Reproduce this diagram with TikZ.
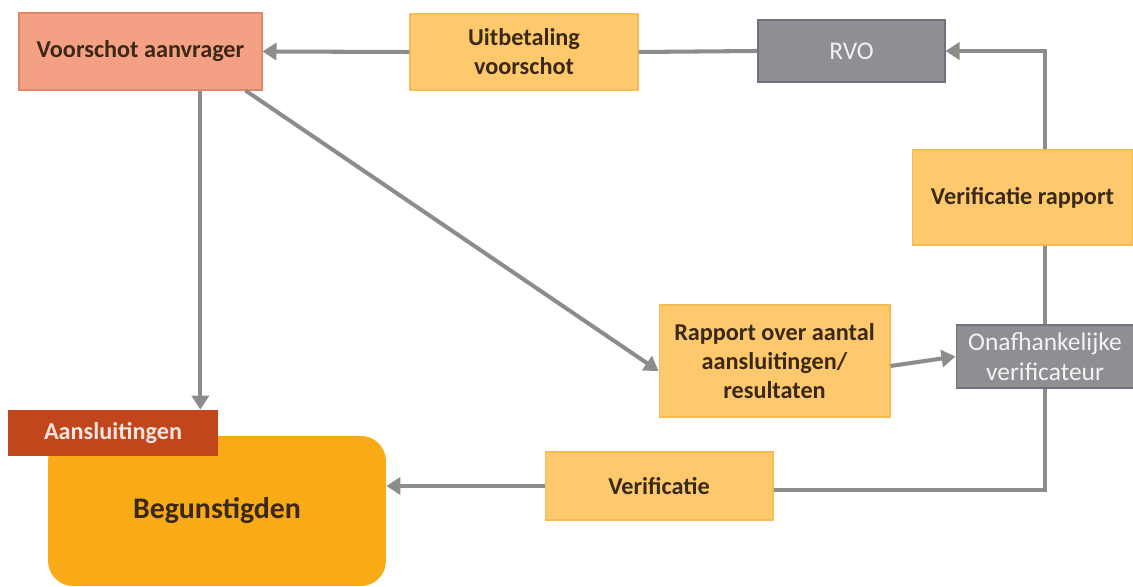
\documentclass[tikz,border=0pt]{standalone}
\usepackage{fontspec}
\setmainfont{Carlito}
\usetikzlibrary{arrows.meta,calc}
\definecolor{salmon}{HTML}{F4A084}
\definecolor{salmonD}{HTML}{E3876A}
\definecolor{lor}{HTML}{FDC96C}
\definecolor{lorD}{HTML}{F5BC55}
\definecolor{gbox}{HTML}{8F8F93}
\definecolor{gboxD}{HTML}{6F7380}
\definecolor{aans}{HTML}{C1461B}
\definecolor{beg}{HTML}{F8AA17}
\definecolor{conn}{HTML}{8C8C8C}
\definecolor{txt}{HTML}{3A2818}
\tikzset{
  base/.style={draw, line width=0.6pt, align=center, inner sep=2pt, font=\fontsize{13.8}{16.5}\selectfont\bfseries, text=txt},
  pinkbox/.style={base, fill=salmon, draw=salmonD},
  orbox/.style={base, fill=lor, draw=lorD},
  graybox/.style={base, fill=gbox, draw=gboxD, text=white!90!gray, font=\fontsize{14.5}{17}\selectfont},
  conn/.style={draw=conn, line width=2.3pt},
  arr/.style={conn, -{Triangle[length=0.28cm,width=0.34cm]}},
}
\begin{document}
\begin{tikzpicture}[x=0.02cm,y=-0.02cm]
\useasboundingbox (0,0) rectangle (1133,587);
% nodes
\node[pinkbox, minimum width=4.86cm, minimum height=1.54cm] (va) at (140.5,51.5) {Voorschot aanvrager};
\node[orbox, minimum width=4.56cm, minimum height=1.52cm] (uv) at (524,52) {Uitbetaling\\voorschot};
\node[graybox, minimum width=3.74cm, minimum height=1.24cm] (rvo) at (851.5,51) {RVO};
\node[orbox, minimum width=4.42cm, minimum height=1.9cm] (vr) at (1022.5,197.5) {Verificatie rapport};
\node[graybox, minimum width=3.56cm, minimum height=1.26cm] (ov) at (1045,356.5) {Onafhankelijke\\verificateur};
\node[orbox, minimum width=4.62cm, minimum height=2.24cm] (rap) at (774.5,361) {Rapport over aantal\\aansluitingen/\\resultaten};
\node[orbox, minimum width=4.56cm, minimum height=1.36cm] (ver) at (659,486) {Verificatie};
\node[fill=beg, rounded corners=0.5cm, minimum width=6.76cm, minimum height=3.0cm, font=\fontsize{17}{20}\selectfont\bfseries, text=txt] (beg) at (217,511) {Begunstigden};
\node[fill=aans, minimum width=4.2cm, minimum height=0.92cm, font=\fontsize{13.8}{16.5}\selectfont\bfseries, text=white!85!aans] (aan) at (113,433) {Aansluitingen};
% connectors
\draw[arr] (uv.west) -- (va.east);
\draw[conn] (rvo.west) -- (uv.east);
\draw[arr] (vr.north -| ov.north) |- (rvo.east);
\draw[conn] (ov.north) -- (vr.south -| ov.north);
\draw[arr] (va.south -| aan.north east) ++(-18,0) coordinate (vs) -- (vs |- aan.north);
\draw[arr] ($(va.south east)+(-17,0)$) -- ($(rap.west)+(0,10)$);
\draw[arr] ($(rap.east)+(0,5)$) -- (ov.west);
\draw[conn] (ov.south) |- ($(ver.east)+(0,4)$);
\draw[arr] (ver.west) -- (beg.east |- ver.west);
\end{tikzpicture}
\end{document}
